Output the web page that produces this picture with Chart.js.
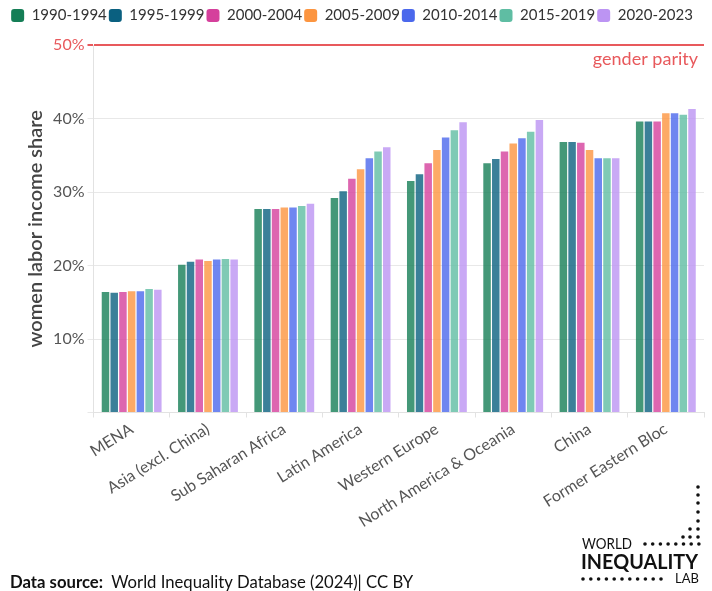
<!DOCTYPE html>
<html><head><meta charset="utf-8">
<script src="https://cdn.jsdelivr.net/npm/chart.js@4"></script>
<style>html,body{margin:0;padding:0;background:#fff}#wrap{width:712px;height:591px;position:relative}</style>
</head><body><div id="wrap"><canvas id="c"></canvas></div>
<script>
const regions = ['MENA','Asia (excl. China)','Sub Saharan Africa','Latin America','Western Europe','North America & Oceania','China','Former Eastern Bloc'];
const periods = ['1990-1994','1995-1999','2000-2004','2005-2009','2010-2014','2015-2019','2020-2023'];
const s1990 = [16.4, 20.1, 27.7, 29.2, 31.5, 33.9, 36.8, 39.6];
const s1995 = [16.3, 20.5, 27.7, 30.1, 32.4, 34.5, 36.8, 39.6];
const s2000 = [16.4, 20.8, 27.7, 31.8, 33.9, 35.5, 36.7, 39.6];
const s2005 = [16.5, 20.6, 27.9, 33.1, 35.7, 36.6, 35.7, 40.7];
const s2010 = [16.5, 20.8, 27.9, 34.6, 37.4, 37.3, 34.6, 40.7];
const s2015 = [16.8, 20.9, 28.1, 35.5, 38.4, 38.2, 34.6, 40.5];
const s2020 = [16.7, 20.8, 28.4, 36.1, 39.5, 39.8, 34.6, 41.3];
const seriesValues = [s1990, s1995, s2000, s2005, s2010, s2015, s2020];
const colors = ['#157e56','#0a6080','#d5409c','#fc9540','#4b68ec','#5fbda3','#bc94f3'];
const yTickValues = [0,10,20,30,40,50];
const parityLevel = 50;
const parityLabel = 'gender parity';
const yTitle = 'women labor income share';
const RED = '#e8595c';

function rgba(hex,a){const n=parseInt(hex.slice(1),16);return `rgba(${n>>16&255},${n>>8&255},${n&255},${a})`;}

const extras = {
  id:'extras',
  afterInit(chart){
    const lg = chart.legend;
    if (lg) { const f = lg.fit.bind(lg); lg.fit = function(){ f(); this.height += 12; }; }
  },
  afterDraw(chart){
    const ctx = chart.ctx, y = chart.scales.y, ca = chart.chartArea;
    ctx.save();
    // parity label
    ctx.fillStyle = RED; ctx.font = '18px Lato'; ctx.textAlign='right'; ctx.textBaseline='alphabetic';
    ctx.fillText(parityLabel, ca.right-6, y.getPixelForValue(parityLevel)+20);
    // source
    ctx.textAlign='left'; ctx.fillStyle='#111';
    ctx.font='bold 16.7px Lato';
    const lbl='Data source:'; ctx.fillText(lbl,10,588);
    const w=ctx.measureText(lbl).width;
    ctx.font='16.7px Lato';
    ctx.fillText(' World Inequality Database (2024)| CC BY',10+w+4,588);
    // logo
    ctx.fillStyle='#111';
    const dot=(x,yy)=>{ctx.beginPath();ctx.arc(x,yy,1.8,0,Math.PI*2);ctx.fill();};
    [487,495,503,512,521,529,537].forEach(yy=>dot(698,yy));
    dot(690,529); dot(690,537); dot(683,537);
    for(let x=645;x<=699;x+=7.7) dot(x,544);
    for(let x=583;x<=665;x+=7.8) dot(x,579);
    ctx.font='15px Lato'; ctx.textBaseline='middle';
    const ww=ctx.measureText('WORLD').width;
    ctx.save(); ctx.translate(582,544); ctx.scale(50/ww,1); ctx.fillText('WORLD',0,0); ctx.restore();
    ctx.font='bold 21px Lato';
    const t='INEQUALITY'; const tw=ctx.measureText(t).width;
    ctx.save(); ctx.translate(581,562); ctx.scale(117/tw,1); ctx.fillText(t,0,0); ctx.restore();
    ctx.font='13px Lato'; ctx.textAlign='right';
    ctx.fillText('LAB',699,579);
    ctx.restore();
  }
};

new Chart(document.getElementById('c'),{
  type:'bar',
  data:{
    labels:regions,
    datasets:periods.map((p,i)=>({label:p,data:seriesValues[i],backgroundColor:rgba(colors[i],0.8),borderWidth:0,barPercentage:0.86,categoryPercentage:0.8}))
  },
  options:{
    responsive:true, maintainAspectRatio:false, animation:false,
    layout:{padding:{left:0,right:8,top:6,bottom:0}},
    plugins:{
      tooltip:{enabled:false},
      legend:{position:'top',labels:{boxWidth:13,boxHeight:13,useBorderRadius:true,borderRadius:3,padding:2,color:'#333',font:{family:'Lato',size:15},
        generateLabels(chart){return chart.data.datasets.map((d,i)=>({text:d.label,fillStyle:colors[i],strokeStyle:colors[i],lineWidth:0,datasetIndex:i,borderRadius:3,fontColor:'#333'}));}}}
    },
    scales:{
      x:{
        grid:{display:true,drawOnChartArea:false,tickLength:5,color:'#e2e2e2'},
        border:{color:'#e2e2e2'},
        ticks:{autoSkip:false,minRotation:32,maxRotation:32,padding:2,color:'#555',font:{family:'Lato',size:16}},
        afterFit(s){s.height=178.5;}
      },
      y:{
        min:0,max:50,
        afterBuildTicks(s){s.ticks=yTickValues.map(v=>({value:v}));},
        grid:{color:c=>c.tick&&c.tick.value===parityLevel?RED:'#e8e8e8',tickColor:c=>c.tick&&c.tick.value===parityLevel?RED:'#e8e8e8',lineWidth:c=>c.tick&&c.tick.value===parityLevel?2:1,tickLength:6},
        border:{color:'#e2e2e2'},
        ticks:{padding:3,color:c=>c.tick&&c.tick.value===parityLevel?RED:'#555',font:{family:'Lato',size:16},callback:v=>v===0?'':v+'%'},
        title:{display:true,text:yTitle,color:'#444',font:{family:'Lato',size:20,weight:'600'},padding:{top:24,bottom:0}},
        afterFit(s){s.width=93.5;}
      }
    }
  },
  plugins:[extras]
});
</script></body></html>
